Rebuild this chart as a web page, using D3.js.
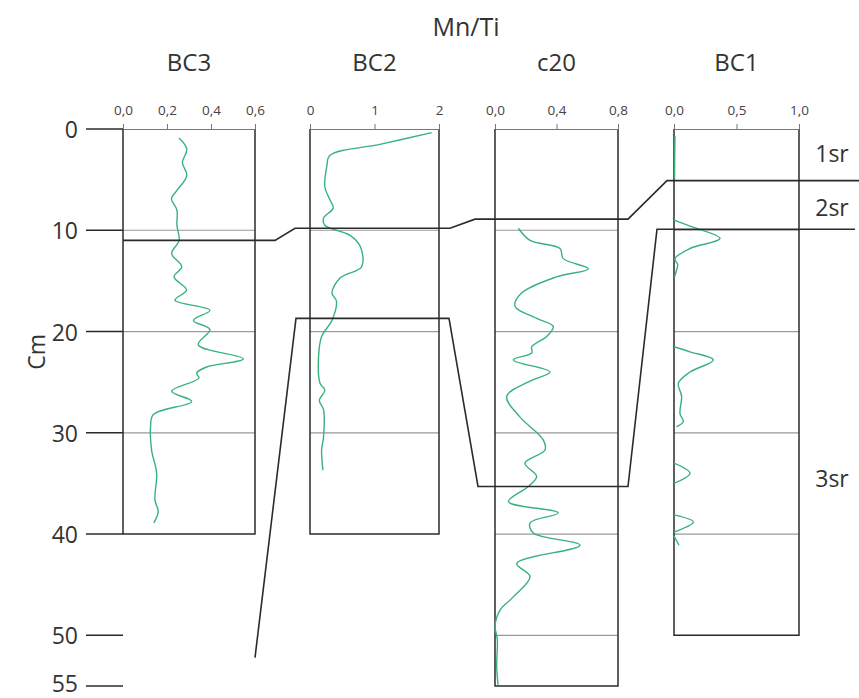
<!DOCTYPE html>
<html>
<head>
<meta charset="utf-8">
<script src="https://cdn.jsdelivr.net/npm/d3@7"></script>
<style>
  html, body { margin: 0; padding: 0; background: #fff; }
  svg { display: block; font-family: "Open Sans", sans-serif; }
</style>
</head>
<body>
<svg id="chart" width="859" height="698"></svg>
<script>
// Core names and their Mn/Ti scales
const cores = ["BC3", "BC2", "c20", "BC1"];
const coreDomains = [[0, 0.6], [0, 2], [0, 0.8], [0, 1]];
const coreTicks = [[0, 0.2, 0.4, 0.6], [0, 1, 2], [0, 0.4, 0.8], [0, 0.5, 1]];
const coreTickDecimals = [1, 0, 1, 1];
const coreBottoms = [40, 40, 55, 50];

// Depth axis (cm)
const depthTicks = [0, 10, 20, 30, 40, 50, 55];

// Mn/Ti profiles: depth (cm) and value
const bc3Depth = [0.9, 2.0, 3.3, 4.6, 6.2, 6.9, 8.0, 9.5, 11.0, 12.3, 13.6, 14.6, 15.9, 16.9, 17.9, 18.9, 19.8, 21.3, 22.7, 23.5, 24.1, 24.6, 25.9, 26.9, 28.2, 29.5, 31.7, 34.0, 36.6, 37.8, 38.9];
const bc3Value = [0.255, 0.29, 0.27, 0.29, 0.24, 0.22, 0.245, 0.245, 0.255, 0.221, 0.267, 0.232, 0.289, 0.236, 0.395, 0.32, 0.395, 0.342, 0.547, 0.38, 0.335, 0.345, 0.221, 0.312, 0.138, 0.125, 0.13, 0.153, 0.145, 0.16, 0.14];

const bc2Depth = [0.36, 1.5, 2.6, 3.7, 5.7, 7.0, 7.8, 8.8, 9.5, 10.5, 11.6, 13.6, 14.7, 16.2, 17.0, 18.9, 20.5, 22.8, 25.1, 25.8, 26.8, 27.7, 30.4, 31.7, 33.7];
const bc2Value = [1.886, 1.1, 0.31, 0.26, 0.23, 0.31, 0.36, 0.21, 0.23, 0.62, 0.78, 0.80, 0.47, 0.34, 0.41, 0.34, 0.18, 0.13, 0.155, 0.23, 0.145, 0.21, 0.21, 0.18, 0.2];

const c20Depth = [9.8, 11.0, 11.8, 12.8, 13.8, 14.6, 16.2, 17.5, 18.7, 19.5, 20.5, 21.5, 22.1, 22.8, 24.0, 24.9, 26.4, 28.4, 30.7, 31.7, 33.0, 34.3, 35.3, 36.8, 37.9, 38.9, 39.9, 41.1, 42.9, 44.2, 46.2, 47.5, 49.1, 50.4, 53.1, 54.9];
const c20Value = [0.152, 0.228, 0.423, 0.444, 0.607, 0.401, 0.173, 0.13, 0.271, 0.379, 0.336, 0.239, 0.239, 0.119, 0.358, 0.228, 0.076, 0.16, 0.314, 0.325, 0.195, 0.271, 0.217, 0.087, 0.412, 0.228, 0.249, 0.553, 0.141, 0.228, 0.119, 0.033, 0.0, 0.015, 0.011, 0.02];

// BC1 is measured in separate intervals (NaN marks a gap)
const bc1Depth = [0.7, 2.5, 4.9, NaN, 9.0, 9.6, 10.8, 11.8, 12.8, 13.4, 13.9, 14.6, NaN, 21.5, 22.0, 22.8, 24.0, 25.1, 26.4, 28.1, 28.9, 29.4, NaN, 33.0, 34.0, 35.0, NaN, 38.1, 38.8, 39.8, NaN, 40.2, 41.1];
const bc1Value = [0.008, 0.006, 0.004, NaN, 0.0, 0.128, 0.368, 0.128, 0.008, 0.03, 0.021, 0.005, NaN, 0.0, 0.128, 0.315, 0.128, 0.035, 0.061, 0.048, 0.075, 0.02, NaN, 0.0, 0.128, 0.0, NaN, 0.0, 0.155, 0.0, NaN, 0.0, 0.04];

const profiles = [[bc3Depth, bc3Value], [bc2Depth, bc2Value], [c20Depth, c20Value], [bc1Depth, bc1Value]];

// Correlated sub-unit boundaries (cm) per core
const top2srDepth = [11.0, 9.8, 8.9, 5.1];
const top3srDepth = [52.2, 18.7, 35.3, 9.9];

const unitLabels = ["1sr", "2sr", "3sr"];
const unitLabelDepth = [2.4, 7.7, 34.5];

// ---- layout ----
const svg = d3.select("#chart");
const panelX = [[123, 255], [310, 439], [495, 618], [674, 799]];
const y = d3.scaleLinear().domain([0, 55]).range([129, 686]);
const green = "#38b27c";
const ink = "#2b2b2b";
const textCol = "#333";

const xScales = cores.map((c, i) => d3.scaleLinear().domain(coreDomains[i]).range(panelX[i]));

// Overall title
svg.append("text").attr("x", 466).attr("y", 29)
  .attr("text-anchor", "middle").attr("dominant-baseline", "middle")
  .attr("font-size", 25).attr("fill", textCol).text("Mn/Ti");

// Depth axis
const yAxis = svg.append("g");
depthTicks.forEach((d, k) => {
  yAxis.append("line").attr("x1", 86).attr("x2", 123).attr("y1", y(d)).attr("y2", y(d))
    .attr("stroke", ink).attr("stroke-width", 1.5);
  yAxis.append("text").attr("x", 78).attr("y", y(d) - (k === depthTicks.length - 1 ? 3 : 0))
    .attr("text-anchor", "end").attr("dominant-baseline", "central")
    .attr("font-size", 23).attr("fill", textCol).text(d);
});
svg.append("text").attr("transform", `translate(36,${y(22)}) rotate(-90)`)
  .attr("text-anchor", "middle").attr("dominant-baseline", "central")
  .attr("font-size", 23).attr("fill", textCol).text("Cm");

// Panels
cores.forEach((name, i) => {
  const x = xScales[i];
  const [x0, x1] = panelX[i];
  const g = svg.append("g");
  const bottom = coreBottoms[i];

  // grid lines every 10 cm
  d3.range(10, bottom, 10).forEach(d => {
    g.append("line").attr("x1", x0).attr("x2", x1).attr("y1", y(d)).attr("y2", y(d))
      .attr("stroke", "#9a9a9a").attr("stroke-width", 1.2);
  });

  // frame: sides and bottom
  g.append("path")
    .attr("d", `M${x0},${y(0)}V${y(bottom)}H${x1}V${y(0)}`)
    .attr("fill", "none").attr("stroke", ink).attr("stroke-width", 1.5);

  // top value axis
  const fmt = d3.format("." + coreTickDecimals[i] + "f");
  const axis = d3.axisTop(x).tickValues(coreTicks[i]).tickSize(5).tickSizeOuter(0)
    .tickFormat(d => fmt(d).replace(".", ","));
  const ga = g.append("g").attr("transform", `translate(0,${y(0)})`).call(axis);
  ga.select(".domain").attr("stroke", "#777").attr("stroke-width", 1.2);
  ga.selectAll(".tick line").attr("stroke", "#777");
  ga.selectAll(".tick text").attr("font-size", 13.5).attr("fill", "#444")
    .attr("font-family", "'Open Sans', sans-serif").attr("dy", "-0.45em");

  // core title
  g.append("text").attr("x", (x0 + x1) / 2).attr("y", 65)
    .attr("text-anchor", "middle").attr("dominant-baseline", "middle")
    .attr("font-size", 24).attr("fill", textCol).text(name);

  // profile
  const [dep, val] = profiles[i];
  const pts = dep.map((d, k) => [val[k], d]);
  const line = d3.line()
    .defined(p => !isNaN(p[0]) && !isNaN(p[1]))
    .x(p => x(p[0])).y(p => y(p[1]))
    .curve(d3.curveCatmullRom.alpha(0.5));
  g.append("path").attr("d", line(pts))
    .attr("fill", "none").attr("stroke", green).attr("stroke-width", 1.4)
    .attr("stroke-linejoin", "round");
});

// Sub-unit boundary correlation lines
const L = i => panelX[i][0], R = i => panelX[i][1];
const top2sr = [
  [L(0), top2srDepth[0]], [R(0) + 20, top2srDepth[0]],
  [L(1) - 15, top2srDepth[1]], [R(1) + 11, top2srDepth[1]],
  [L(2) - 20, top2srDepth[2]], [R(2) + 10, top2srDepth[2]],
  [L(3) - 7, top2srDepth[3]], [859, top2srDepth[3]]
];
const top3sr = [
  [R(0), top3srDepth[0]],
  [L(1) - 14, top3srDepth[1]], [R(1) + 10, top3srDepth[1]],
  [L(2) - 17, top3srDepth[2]], [R(2) + 10, top3srDepth[2]],
  [L(3) - 17, top3srDepth[3]], [855, top3srDepth[3]]
];
const bLine = d3.line().x(p => p[0]).y(p => y(p[1]));
[top2sr, top3sr].forEach(pts => {
  svg.append("path").attr("d", bLine(pts))
    .attr("fill", "none").attr("stroke", ink).attr("stroke-width", 1.6);
});

// Sub-unit labels
unitLabels.forEach((t, k) => {
  svg.append("text").attr("x", 832).attr("y", y(unitLabelDepth[k]))
    .attr("text-anchor", "middle").attr("dominant-baseline", "central")
    .attr("font-size", 23).attr("fill", textCol).text(t);
});
</script>
</body>
</html>
